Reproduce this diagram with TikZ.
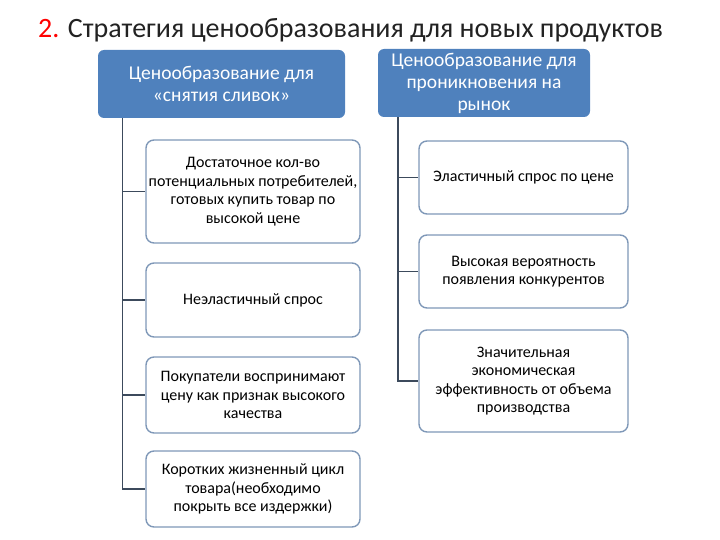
\documentclass[tikz,border=0pt]{standalone}
\usepackage{fontspec}
\setmainfont{Carlito}
\begin{document}
\begin{tikzpicture}[x=1pt,y=-1pt,
  head/.style={draw=none,fill=hb,rounded corners=6pt,text=white,align=center,font=\fontsize{19.5}{22}\selectfont,inner sep=1pt},
  child/.style={draw=cb,line width=1.4pt,fill=white,rounded corners=8pt,align=center,font=\fontsize{16}{18.5}\selectfont,inner sep=1pt},
  conn/.style={draw=ln,line width=1.2pt}]
\definecolor{hb}{HTML}{4F81BD}
\definecolor{cb}{HTML}{7F98B8}
\definecolor{ln}{HTML}{3C4A5C}
\useasboundingbox (0,0) rectangle (720,540);
\node[font=\fontsize{28}{32}\selectfont,anchor=west,inner sep=0pt] (title) at (38,30) {\textcolor{red}{2.} \textcolor[HTML]{222222}{Стратегия ценообразования для новых продуктов}};
\node[head,minimum width=247,minimum height=68] (L) at (221.5,84) {Ценообразование для\\«снятия сливок»};
\node[head,minimum width=212,minimum height=68] (R) at (484,83) {Ценообразование для\\проникновения на\\рынок};
\node[child,minimum width=214,minimum height=103] (l1) at (253,191.5) {Достаточное кол-во\\потенциальных потребителей,\\готовых купить товар по\\высокой цене};
\node[child,minimum width=214,minimum height=74] (l2) at (253,300) {Неэластичный спрос};
\node[child,minimum width=214,minimum height=76] (l3) at (253,395) {Покупатели воспринимают\\цену как признак высокого\\качества};
\node[child,minimum width=214,minimum height=76] (l4) at (253,489) {Коротких жизненный цикл\\товара(необходимо\\покрыть все издержки)};
\node[child,minimum width=209,minimum height=73] (r1) at (523.5,177.5) {Эластичный спрос по цене};
\node[child,minimum width=209,minimum height=73] (r2) at (523.5,271.5) {Высокая вероятность\\появления конкурентов};
\node[child,minimum width=209,minimum height=102] (r3) at (523.5,381) {Значительная\\экономическая\\эффективность от объема\\производства};
\coordinate (la) at ([xshift=-99]L.south);
\coordinate (ra) at ([xshift=-86]R.south);
\draw[conn] (la) |- (l4.west);
\foreach \n in {l1,l2,l3} \draw[conn] (la |- \n.west) -- (\n.west);
\draw[conn] (ra) |- (r3.west);
\foreach \n in {r1,r2} \draw[conn] (ra |- \n.west) -- (\n.west);
\end{tikzpicture}
\end{document}
